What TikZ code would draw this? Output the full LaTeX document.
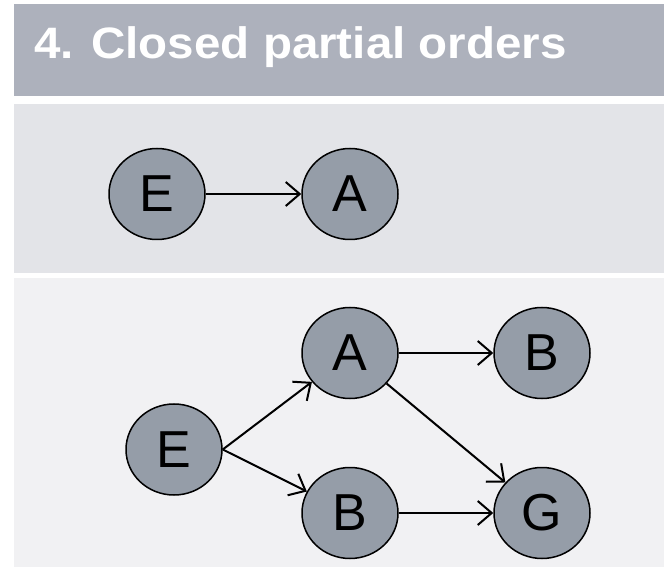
\documentclass[tikz,border=0pt]{standalone}
\usepackage{fontspec}
\setmainfont{Liberation Sans}
\newfontfamily\titlefont[FakeStretch=1.08]{Liberation Sans Bold}
\usetikzlibrary{shapes.geometric,arrows.meta}
\definecolor{titlebg}{HTML}{ADB1BC}
\definecolor{bandA}{HTML}{E3E4E8}
\definecolor{bandB}{HTML}{F1F1F3}
\definecolor{nodefill}{HTML}{959DA8}
\tikzset{
  ev/.style={ellipse, draw=black, line width=1.5pt, fill=nodefill, minimum width=96pt, minimum height=91pt, inner sep=0pt, font=\fontsize{52}{52}\selectfont},
  conn/.style={line width=2pt, -{Straight Barb[length=14pt,width=24pt,line width=2pt]}}
}
\begin{document}
\begin{tikzpicture}[x=1pt,y=-1pt]
\useasboundingbox (0,0) rectangle (664,569);
\fill[white] (0,0) rectangle (664,569);
\fill[titlebg] (14,4) rectangle (664,96);
\fill[bandA] (14,104) rectangle (664,273);
\fill[bandB] (14,278) rectangle (664,567);
\node[anchor=base west, text=white, font=\fontsize{44}{44}\selectfont\titlefont, inner sep=0pt] (title) at (34,59) {4. Closed partial orders};
% top band
\node[ev] (E1) at (157,194) {E};
\node[ev] (A1) at (350,194) {A};
\draw[conn] (E1) -- (A1);
% bottom band
\node[ev] (A2) at (350,353) {A};
\node[ev] (B2) at (542,353) {B};
\node[ev] (E2) at (174,449.5) {E};
\node[ev] (B3) at (350,513) {B};
\node[ev] (G2) at (542,513) {G};
\draw[conn] (A2) -- (B2);
\draw[conn] (E2.east) -- (A2);
\draw[conn] (E2.east) -- (B3);
\draw[conn] (A2) -- (G2);
\draw[conn] (B3) -- (G2);
\end{tikzpicture}
\end{document}
